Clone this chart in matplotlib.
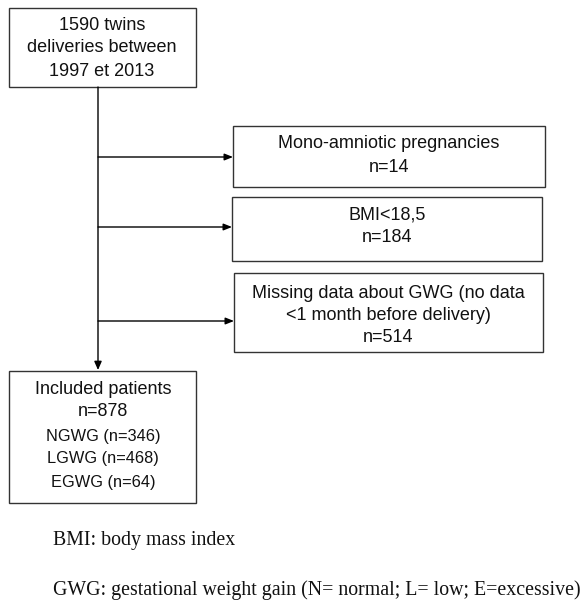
import matplotlib
matplotlib.use("Agg")
import matplotlib.pyplot as plt
from matplotlib.patches import Rectangle

W, H = 585, 604
total = 1590
excluded_labels = [["Mono-amniotic pregnancies"], ["BMI<18,5"],
                   ["Missing data about GWG (no data", "<1 month before delivery)"]]
excluded_n = [14, 184, 514]
included_n = 878
group_labels = ["NGWG", "LGWG", "EGWG"]
group_n = [346, 468, 64]
footnotes = ["BMI: body mass index",
             "GWG: gestational weight gain (N= normal; L= low; E=excessive)"]

fig = plt.figure(figsize=(W / 100, H / 100), dpi=100)
ax = fig.add_axes([0, 0, 1, 1])
ax.set_xlim(0, W)
ax.set_ylim(H, 0)
ax.axis("off")

SANS = "Liberation Sans"
SERIF = "Liberation Serif"
lw = 1.0
ec = "#333333"
FS = 13

def box(x0, y0, x1, y1):
    ax.add_patch(Rectangle((x0, y0), x1 - x0, y1 - y0, fill=False, ec=ec, lw=lw))

def lines(xc, ys, texts, fs=FS):
    for y, t in zip(ys, texts):
        ax.text(xc, y, t, ha="center", va="center", fontsize=fs, family=SANS, color="#111111")

# top box
box(9, 8, 196, 87)
lines(102, [25, 48, 71], [f"{total} twins", "deliveries between", "1997 et 2013"])

# main vertical arrow
ax.annotate("", xy=(98, 370), xytext=(98, 87),
            arrowprops=dict(arrowstyle="-|>,head_length=0.5,head_width=0.22", color="black", lw=1.0,
                            shrinkA=0, shrinkB=0))

# exclusion boxes
ex_boxes = [(233, 126, 545, 187), (232, 197, 542, 261), (234, 273, 543, 352)]
arrow_y = [157, 227, 321]
text_y = [[144, 167], [215, 237], [293, 316, 337]]
for (x0, y0, x1, y1), ay, lab, n, ty in zip(ex_boxes, arrow_y, excluded_labels, excluded_n, text_y):
    box(x0, y0, x1, y1)
    ax.annotate("", xy=(x0, ay), xytext=(98, ay),
                arrowprops=dict(arrowstyle="-|>,head_length=0.5,head_width=0.2", color="black", lw=1.0,
                                shrinkA=0, shrinkB=0))
    lines((x0 + x1) / 2, ty, lab + [f"n={n}"])

# included box
box(9, 371, 196, 503)
lines(103, [389, 411], ["Included patients", f"n={included_n}"])
lines(103, [436, 459, 483], [f"{g} (n={n})" for g, n in zip(group_labels, group_n)], fs=11.8)

# footnotes
ax.text(53, 541, footnotes[0], ha="left", va="center", fontsize=14.3, family=SERIF, color="#111111")
ax.text(53, 590, footnotes[1], ha="left", va="center", fontsize=14.3, family=SERIF, color="#111111")

fig.savefig("out.png", dpi=100, facecolor="white")
